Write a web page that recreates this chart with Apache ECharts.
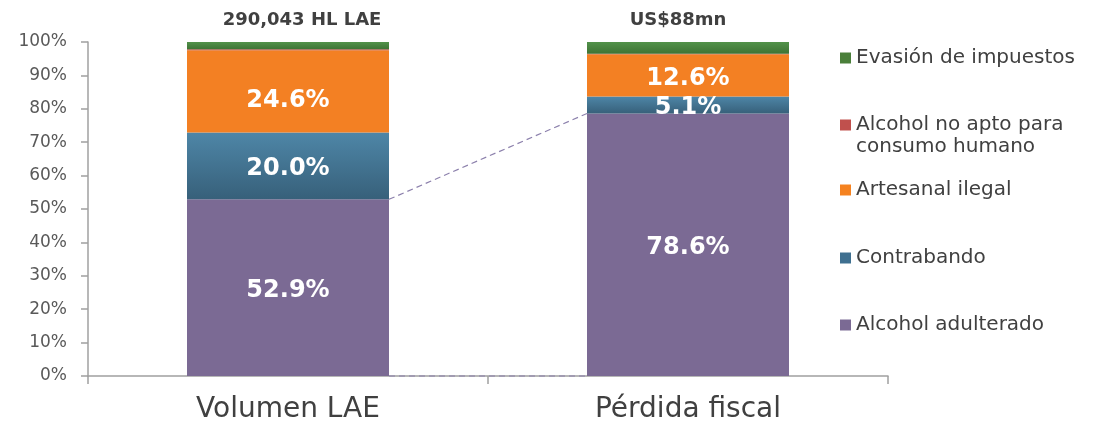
<!DOCTYPE html>
<html>
<head>
<meta charset="utf-8">
<script src="https://cdn.jsdelivr.net/npm/echarts@6/dist/echarts.min.js"></script>
<style>
  html, body { margin: 0; padding: 0; background: #fff; }
  #chart { width: 1117px; height: 421px; }
</style>
</head>
<body>
<div id="chart"></div>
<script>
// datos
const categories = ['Volumen LAE', 'Pérdida fiscal'];
const totals = ['290,043 HL LAE', 'US$88mn'];
const adulterado = [52.9, 78.6];
const contrabando = [20.0, 5.1];
const artesanal = [24.6, 12.6];
const noApto = [0.3, 0.2];
const evasion = [2.2, 3.5];
const yTicks = [0, 10, 20, 30, 40, 50, 60, 70, 80, 90, 100];

const FONT = '"DejaVu Sans", Verdana, sans-serif';
const BAR_FRAC = 0.505;
const NO_APTO = 'Alcohol no apto para\nconsumo humano';

const chart = echarts.init(document.getElementById('chart'));

const label = {
  show: true,
  position: 'inside',
  offset: [0, 3],
  color: '#fff',
  fontFamily: FONT,
  fontWeight: 'bold',
  fontSize: 24,
  formatter: p => p.value.toFixed(1) + '%'
};

function grad(top, bottom) {
  return new echarts.graphic.LinearGradient(0, 0, 0, 1, [
    { offset: 0, color: top },
    { offset: 1, color: bottom }
  ]);
}

function legendFor(name, color, top) {
  return {
    orient: 'vertical',
    left: 840,
    top: top,
    padding: 0,
    itemWidth: 11,
    itemHeight: 11,
    icon: 'rect',
    selectedMode: false,
    data: [{ name: name, itemStyle: { color: color } }],
    // solo la primera línea junto al icono; la segunda va en graphic
    formatter: n => n.split('\n')[0],
    textStyle: { fontFamily: FONT, fontSize: 20, color: '#404040', lineHeight: 22 }
  };
}

const option = {
  animation: false,
  title: [
    { text: totals[0], left: 297, top: 6, textAlign: 'center',
      textStyle: { fontFamily: FONT, fontSize: 18, fontWeight: 'bold', color: '#404040' } },
    { text: totals[1], left: 673, top: 6, textAlign: 'center',
      textStyle: { fontFamily: FONT, fontSize: 18, fontWeight: 'bold', color: '#404040' } }
  ],
  legend: [
    legendFor('Evasión de impuestos', '#4A7F3A', 47),
    legendFor(NO_APTO, '#C0504D', 114),
    legendFor('Artesanal ilegal', '#F58220', 179),
    legendFor('Contrabando', '#3F7090', 247),
    legendFor('Alcohol adulterado', '#7B6A94', 314)
  ],
  graphic: [
    {
      type: 'text', left: 856, top: 137,
      style: { text: NO_APTO.split('\n')[1], font: '20px ' + FONT, fill: '#404040' }
    }
  ],
  grid: { left: 88, right: 229, top: 42, bottom: 45, outerBoundsMode: 'none' },
  xAxis: {
    type: 'category',
    data: categories,
    axisLine: { lineStyle: { color: '#A0A0A0', width: 1.5 } },
    axisTick: { show: true, length: 8, lineStyle: { color: '#A0A0A0', width: 1.5 } },
    axisLabel: { fontFamily: FONT, fontSize: 28, color: '#404040', margin: 20 }
  },
  yAxis: {
    type: 'value',
    min: 0,
    max: 100,
    interval: 10,
    splitLine: { show: false },
    axisLine: { show: true, lineStyle: { color: '#A0A0A0', width: 1.5 } },
    axisTick: { show: true, length: 7, lineStyle: { color: '#A0A0A0', width: 1.5 } },
    axisLabel: {
      fontFamily: FONT, fontSize: 17, color: '#595959', margin: 21,
      formatter: v => (yTicks.indexOf(v) >= 0 ? v + '%' : '')
    }
  },
  series: [
    {
      name: 'Alcohol adulterado', type: 'bar', stack: 'tot', barWidth: '50.5%',
      data: adulterado, label: label,
      itemStyle: { color: '#7B6A94' }
    },
    {
      name: 'Contrabando', type: 'bar', stack: 'tot',
      data: contrabando, label: label,
      itemStyle: { color: grad('#4E86A7', '#37607A') }
    },
    {
      name: 'Artesanal ilegal', type: 'bar', stack: 'tot',
      data: artesanal.map((v, i) => i === 0 ? { value: v, label: { offset: [0, 9] } } : v),
      label: label,
      itemStyle: { color: '#F38023' }
    },
    {
      name: NO_APTO, type: 'bar', stack: 'tot',
      data: noApto,
      itemStyle: { color: '#C0504D' }
    },
    {
      name: 'Evasión de impuestos', type: 'bar', stack: 'tot',
      data: evasion,
      itemStyle: { color: grad('#52924A', '#3E7334') }
    },
    {
      // líneas punteadas entre las barras
      type: 'custom',
      silent: true,
      data: [0],
      z: 1,
      renderItem: function (params, api) {
        const half = api.size([1, 0])[0] * BAR_FRAC / 2;
        const a = api.coord([0, adulterado[0]]);
        const b = api.coord([1, adulterado[1]]);
        const a0 = api.coord([0, 0]);
        const b0 = api.coord([1, 0]);
        const style = { stroke: '#8C80AC', lineWidth: 1.2, lineDash: [6, 4] };
        return {
          type: 'group',
          children: [
            { type: 'line', shape: { x1: a[0] + half, y1: a[1], x2: b[0] - half, y2: b[1] }, style: style },
            { type: 'line', shape: { x1: a0[0] + half, y1: a0[1], x2: b0[0] - half, y2: b0[1] }, style: style }
          ]
        };
      }
    }
  ]
};

chart.setOption(option);
</script>
</body>
</html>
